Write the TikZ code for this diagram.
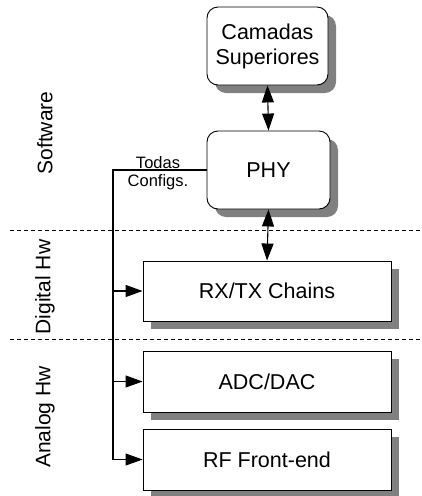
\documentclass[tikz,border=0pt]{standalone}
\usepackage{fontspec}
\setmainfont{Liberation Sans}
\usetikzlibrary{arrows.meta,shadows}
\begin{document}
\begin{tikzpicture}[x=1pt,y=-1pt,
  blk/.style={draw=black, line width=0.9pt, fill=white, font=\fontsize{21.5}{25}\selectfont, align=center, inner sep=0pt,
     drop shadow={shadow xshift=8pt, shadow yshift=-8pt, fill=black!50, opacity=1}},
  rblk/.style={blk, rounded corners=11pt},
  tip/.tip={Triangle[length=17pt,width=12pt]},
  conn/.style={line width=1.1pt, -tip},
  dconn/.style={line width=1.1pt, tip-tip},
  sep/.style={line width=0.8pt, dash pattern=on 4pt off 3pt},
  side/.style={rotate=90, font=\fontsize{21}{24}\selectfont},
  small/.style={font=\fontsize{16.5}{19}\selectfont, align=center, inner sep=0pt}]
\useasboundingbox (0,0) rectangle (421,496);
\node[rblk, minimum width=121pt, minimum height=78pt] (cam) at (267.5,46) {Camadas\\[0pt]Superiores};
\node[rblk, minimum width=123pt, minimum height=78pt] (phy) at (268.5,170) {PHY};
\node[blk, minimum width=248pt, minimum height=60pt] (rx) at (267,291) {RX/TX Chains};
\node[blk, minimum width=248pt, minimum height=61pt] (adc) at (267,381.5) {ADC/DAC};
\node[blk, minimum width=248pt, minimum height=61pt] (rf) at (267,459.5) {RF Front-end};
\coordinate (dl1) at (10,230);
\coordinate (dr1) at (421,230);
\coordinate (dl2) at (10,339);
\coordinate (dr2) at (421,339);
\draw[sep] (dl1) -- (dr1);
\draw[sep] (dl2) -- (dr2);
\draw[dconn] (cam.south) -- (phy.north);
\draw[dconn] (phy.south) -- (rx.north);
\coordinate (top) at (113,170);
\coordinate (bot) at (113,459.5);
\draw[line width=1.1pt] (phy.west) -- (top) -- (bot);
\draw[conn] (113,291) -- (rx.west);
\draw[conn] (113,381.5) -- (adc.west);
\draw[conn] (bot) -- (rf.west);
\node[small] (cfg) at (158,173) {Todas\\[-1pt]Configs.};
\node[side] (sw) at (45,133) {Software};
\node[side] (dh) at (45,287) {Digital Hw};
\node[side] (ah) at (45,417) {Analog Hw};
\end{tikzpicture}
\end{document}
